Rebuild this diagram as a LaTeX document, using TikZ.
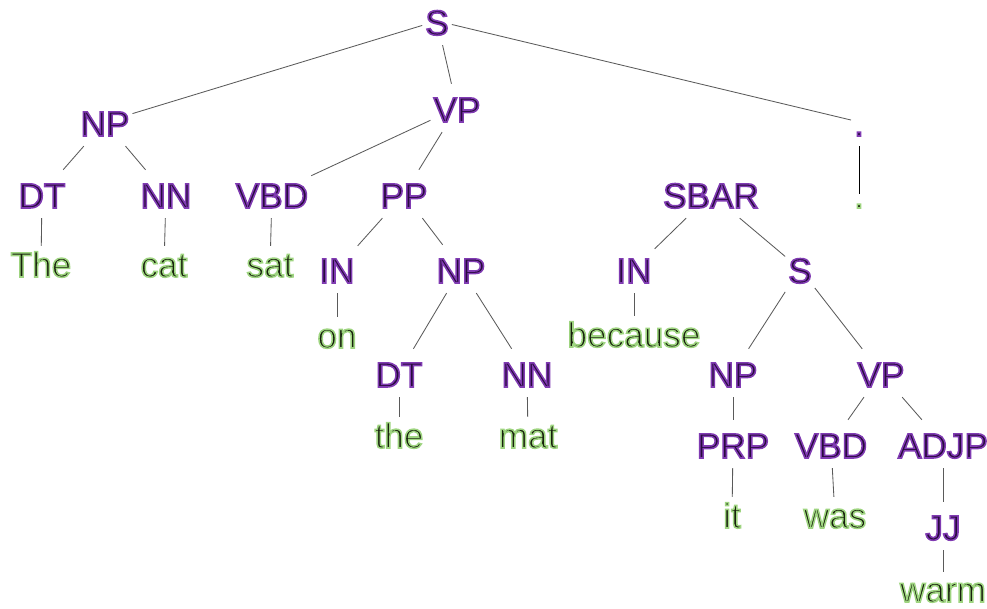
\documentclass[tikz,border=0pt]{standalone}
\usepackage{fontspec}
\setmainfont{Liberation Sans}
\definecolor{tagink}{RGB}{40,10,62}
\definecolor{wordink}{RGB}{22,32,12}
\definecolor{linegray}{RGB}{90,90,90}
% outlined text: fill in the ink colour, stroke in a halo colour
\newcommand{\strokedtext}[2]{\special{pdf:literal direct 2 Tr 1.1 w #1 RG}#2\special{pdf:literal direct 0 Tr}}
\newcommand{\ptag}[1]{\strokedtext{0.50 0.23 0.70}{#1}}
\newcommand{\pword}[1]{\strokedtext{0.62 0.83 0.50}{#1}}
\usetikzlibrary{positioning}

\begin{document}
\begin{tikzpicture}[x=0.025cm, y=-0.025cm,
		tag/.style={anchor=base, text=tagink, font=\fontsize{25}{30}\selectfont,
			inner sep=2pt, text height=25pt, text depth=5pt},
		word/.style={tag, text=wordink, text height=20pt},
		treeline/.style={draw=linegray, line width=0.6pt}
	]
		\useasboundingbox (0,0) rectangle (987,608);
		% phrase labels
		\node[tag] (s) at (437,35) {\ptag{S}};
		\node[tag] (np) at (105,136) {\ptag{NP}};
		\node[tag] (vp) at (457,122) {\ptag{VP}};
		\node[tag] (dotp) at (859,136) {\ptag{.}};
		\node[tag] (dt) at (42,208) {\ptag{DT}};
		\node[tag] (nn) at (166,208) {\ptag{NN}};
		\node[tag] (vbd) at (272,208) {\ptag{VBD}};
		\node[tag] (pp) at (404,208) {\ptag{PP}};
		\node[tag] (sbar) at (711,208) {\ptag{SBAR}};
		\node[tag] (in) at (337,283) {\ptag{IN}};
		\node[tag] (np2) at (461,283) {\ptag{NP}};
		\node[tag] (inb) at (634,283) {\ptag{IN}};
		\node[tag] (s2) at (800,283) {\ptag{S}};
		\node[tag] (dt2) at (399,387) {\ptag{DT}};
		\node[tag] (nn2) at (527,387) {\ptag{NN}};
		\node[tag] (np3) at (733,387) {\ptag{NP}};
		\node[tag] (vp3) at (881,387) {\ptag{VP}};
		\node[tag] (prp) at (733,458) {\ptag{PRP}};
		\node[tag] (vbd2) at (831,458) {\ptag{VBD}};
		\node[tag] (adjp) at (943,458) {\ptag{ADJP}};
		\node[tag] (jj) at (943,540) {\ptag{JJ}};
		% words
		\node[word, text height=8pt] (dotw) at (859,208) {\pword{.}};
		\node[word] (the) at (41,277) {\pword{The}};
		\node[word] (cat) at (164,277) {\pword{cat}};
		\node[word] (sat) at (270,277) {\pword{sat}};
		\node[word] (on) at (337,348) {\pword{on}};
		\node[word] (because) at (634,347) {\pword{because}};
		\node[word] (the2) at (399,448) {\pword{the}};
		\node[word] (mat) at (528,448) {\pword{mat}};
		\node[word] (it) at (732,528) {\pword{it}};
		\node[word] (was) at (835,528) {\pword{was}};
		\node[word, text depth=0pt, inner sep=1pt] (warm) at (943,602) {\pword{warm}};
		% branches
		\draw[treeline] (s) -- (np);
		\draw[treeline] (s) -- (vp);
		\draw[treeline] (s) -- (dotp);
		\draw[treeline] (np) -- (dt);
		\draw[treeline] (np) -- (nn);
		\draw[treeline] (vp) -- (vbd);
		\draw[treeline] (vp) -- (pp);
		\draw[treeline] (dt) -- (the);
		\draw[treeline] (nn) -- (cat);
		\draw[treeline] (vbd) -- (sat);
		\draw[treeline] (pp) -- (in);
		\draw[treeline] (pp) -- (np2);
		\draw[treeline] (in) -- (on);
		\draw[treeline] (np2) -- (dt2);
		\draw[treeline] (np2) -- (nn2);
		\draw[treeline] (dt2) -- (the2);
		\draw[treeline] (nn2) -- (mat);
		\draw[treeline] (sbar) -- (inb);
		\draw[treeline] (sbar) -- (s2);
		\draw[treeline] (inb) -- (because);
		\draw[treeline] (s2) -- (np3);
		\draw[treeline] (s2) -- (vp3);
		\draw[treeline] (np3) -- (prp);
		\draw[treeline] (vp3) -- (vbd2);
		\draw[treeline] (vp3) -- (adjp);
		\draw[treeline] (prp) -- (it);
		\draw[treeline] (vbd2) -- (was);
		\draw[treeline] (adjp) -- (jj);
		\draw[treeline] (jj) -- (warm);
		\draw[treeline, draw=black] (dotp) -- (dotw);
	\end{tikzpicture}
\end{document}
